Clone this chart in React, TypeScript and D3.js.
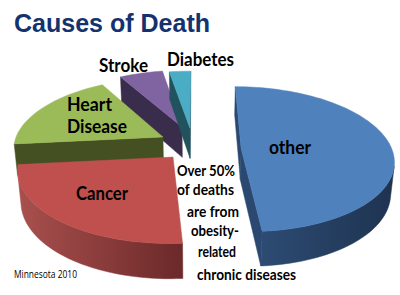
import React from "react";
import * as d3 from "d3";

// ---- data ----
const categories = ["other", "Cancer", "Heart Disease", "Stroke", "Diabetes"];
const shares = [48.8, 24.6, 18.4, 5.5, 2.7];
const topColors = ["#4f81bd", "#c0504d", "#9bbb59", "#8064a2", "#4bacc6"];
const sideLight = ["#2d4b73", "#a9504e", "#55652b", "#4a3a60", "#2a6576"];
const sideDark = ["#1e3350", "#6b2929", "#3d4a1c", "#33284a", "#1c4a56"];
const wallColors = ["#2b4870", "#8a3735", "#444f22", "#3a2d4c", "#22525e"];
// explode offsets of each slice, in pie-radius units (right, back)
const explodeU = [0.3, -0.15, -0.225, -0.097, -0.042];
const explodeV = [-0.02, -0.14, 0.145, 0.295, 0.28];
const textLines = ["Over 50%", "of deaths", "are from", "obesity-", "related", "chronic diseases"];

// ---- view ----
const W = 400, H = 295;
const CX = 196, CY = 147, K = 150, DW = 6;
const PHI = (28 * Math.PI) / 180;
const T = 0.24;
const START = 0;
const sinP = Math.sin(PHI), cosP = Math.cos(PHI);

function proj(u: number, v: number, h: number): [number, number] {
  const depth = DW + v * cosP - h * sinP;
  const s = DW / depth;
  return [CX + K * u * s, CY - K * (v * sinP + h * cosP) * s];
}

function area(pts: [number, number][]) {
  let a = 0;
  for (let i = 0; i < pts.length; i++) {
    const [x1, y1] = pts[i];
    const [x2, y2] = pts[(i + 1) % pts.length];
    a += x1 * y2 - x2 * y1;
  }
  return a / 2;
}

const line = d3.line<[number, number]>().x((d) => d[0]).y((d) => d[1]);
const poly = (pts: [number, number][]) => line(pts) + "Z";

const pie = d3
  .pie<number>()
  .sort(null)
  .value((d) => d)
  .startAngle((START * Math.PI) / 180)
  .endAngle(((START + 360) * Math.PI) / 180)(shares);

type Face = { d: string; fill: string };

function buildSlice(i: number) {
  const a0 = pie[i].startAngle;
  const a1 = pie[i].endAngle;
  const ou = explodeU[i];
  const ov = explodeV[i];
  const n = Math.max(2, Math.ceil(((a1 - a0) * 180) / Math.PI / 2));
  const thetas = d3.range(n + 1).map((k) => a0 + ((a1 - a0) * k) / n);
  const rim = (t: number, h: number) => proj(ou + Math.sin(t), ov + Math.cos(t), h);
  const apex = (h: number) => proj(ou, ov, h);
  const faces: Face[] = [];
  const sw: [number, number][] = [apex(-T), rim(a0, -T), rim(a0, 0), apex(0)];
  if (area(sw) > 0) faces.push({ d: poly(sw), fill: wallColors[i] });
  const ew: [number, number][] = [apex(0), rim(a1, 0), rim(a1, -T), apex(-T)];
  if (area(ew) > 0) faces.push({ d: poly(ew), fill: wallColors[i] });
  let run: number[] = [];
  const runs: number[][] = [];
  for (let k = 0; k < n; k++) {
    const q: [number, number][] = [rim(thetas[k + 1], 0), rim(thetas[k], 0), rim(thetas[k], -T), rim(thetas[k + 1], -T)];
    if (area(q) > 0) {
      if (run.length === 0) run.push(k);
      run.push(k + 1);
    } else if (run.length) {
      runs.push(run);
      run = [];
    }
  }
  if (run.length) runs.push(run);
  runs.forEach((r) => {
    const top = r.map((k) => rim(thetas[k], 0));
    const bot = r.map((k) => rim(thetas[k], -T)).reverse();
    faces.push({ d: poly([...top, ...bot]), fill: `url(#side${i})` });
  });
  const topPts: [number, number][] = [apex(0), ...thetas.map((t) => rim(t, 0))];
  faces.push({ d: poly(topPts), fill: topColors[i] });
  return { faces, depth: ov };
}

const slices = shares.map((_, i) => ({ i, ...buildSlice(i) })).sort((a, b) => b.depth - a.depth);

const labelFont = "Lato, 'Noto Sans', sans-serif";

export default function App() {
  return (
    <svg width={W} height={H} viewBox={`0 0 ${W} ${H}`} style={{ display: "block", position: "absolute", left: 0, top: 0, background: "#fff" }}>
      <defs>
        {shares.map((_, i) => (
          <linearGradient key={i} id={`side${i}`} x1="0" y1="0" x2="1" y2="0">
            <stop offset="0" stopColor={sideLight[i]} />
            <stop offset="1" stopColor={sideDark[i]} />
          </linearGradient>
        ))}
      </defs>
      <text x={14} y={32} fontFamily="'Liberation Sans', Arial, sans-serif" fontWeight="bold" fontSize={25} fill="#14336e" textLength={196} lengthAdjust="spacingAndGlyphs">
        Causes of Death
      </text>
      {slices.map((s) => (
        <g key={s.i}>
          {s.faces.map((f, j) => (
            <path key={j} d={f.d} fill={f.fill} stroke={f.fill} strokeWidth={0.5} strokeLinejoin="round" />
          ))}
        </g>
      ))}
      <g fontFamily={labelFont} fontWeight="bold" fill="#000" fontSize={18.5}>
        <text x={167} y={66} textLength={67} lengthAdjust="spacingAndGlyphs">{categories[4]}</text>
        <text x={99} y={71.5} textLength={49} lengthAdjust="spacingAndGlyphs">{categories[3]}</text>
        <text x={67} y={111} textLength={45} lengthAdjust="spacingAndGlyphs">Heart</text>
        <text x={67} y={133} textLength={60} lengthAdjust="spacingAndGlyphs">Disease</text>
        <text x={269} y={154} textLength={42} lengthAdjust="spacingAndGlyphs">{categories[0]}</text>
        <text x={76} y={200} textLength={52} lengthAdjust="spacingAndGlyphs">{categories[1]}</text>
      </g>
      <g fontFamily={labelFont} fontWeight="bold" fill="#000" fontSize={15}>
        <text x={177} y={176} textLength={58} lengthAdjust="spacingAndGlyphs">{textLines[0]}</text>
        <text x={177} y={195} textLength={57} lengthAdjust="spacingAndGlyphs">{textLines[1]}</text>
        <text x={187} y={216.5} textLength={52} lengthAdjust="spacingAndGlyphs">{textLines[2]}</text>
        <text x={191} y={235.5} textLength={48} lengthAdjust="spacingAndGlyphs">{textLines[3]}</text>
        <text x={198} y={256.5} textLength={38} lengthAdjust="spacingAndGlyphs">{textLines[4]}</text>
        <text x={197} y={280} textLength={99} lengthAdjust="spacingAndGlyphs">{textLines[5]}</text>
      </g>
      <text x={14} y={278} fontFamily="'Open Sans', 'Noto Sans', sans-serif" fontSize={10} fill="#000" textLength={63} lengthAdjust="spacingAndGlyphs">
        Minnesota 2010
      </text>
    </svg>
  );
}
